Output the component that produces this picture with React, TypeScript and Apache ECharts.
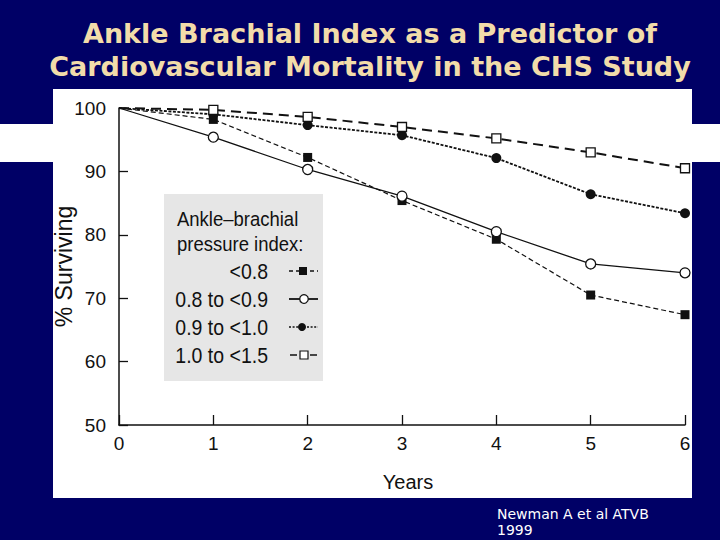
import React, { useEffect, useRef } from "react";
import * as echarts from "echarts";

// Follow-up years and cumulative survival (%) per ankle–brachial index group
const years = [0, 1, 2, 3, 4, 5, 6];
const survivalBelow08 = [100, 98.2, 92.2, 85.4, 79.3, 70.5, 67.4];
const survival08to09 = [100, 95.4, 90.3, 86.1, 80.5, 75.4, 74.0];
const survival09to10 = [100, 99.0, 97.3, 95.7, 92.1, 86.4, 83.4];
const survival10to15 = [100, 99.7, 98.6, 97.0, 95.2, 93.0, 90.5];

const groupLabels = ["<0.8", "0.8 to <0.9", "0.9 to <1.0", "1.0 to <1.5"];
const legendHeading = ["Ankle\u2013brachial", "pressure index:"];
const titleLines = [
  "Ankle Brachial Index as a Predictor of",
  "Cardiovascular Mortality in the CHS Study",
];
const citationLines = ["Newman A et al ATVB", "1999"];

const NAVY = "#000066";
const INK = "#111111";
const SANS = '"Liberation Sans", Arial, Helvetica, sans-serif';

function toPoints(values: number[]) {
  return years.map((yr, i) =>
    yr === 0 ? { value: [yr, values[i]], symbol: "none" } : { value: [yr, values[i]] }
  );
}

export default function App() {
  const ref = useRef<HTMLDivElement>(null);

  useEffect(() => {
    if (!ref.current) return;
    const chart = echarts.init(ref.current, null, { renderer: "svg" });

    const legendRowsY = [271, 299, 327, 355];
    const legendText: any[] = groupLabels.map((label, i) => ({
      type: "text",
      x: 268,
      y: legendRowsY[i],
      scaleY: 1.1,
      z: 20,
      style: {
        text: label,
        fill: INK,
        font: `19.5px ${SANS}`,
        align: "right",
        verticalAlign: "middle",
      },
    }));

    const legendKeys: any[] = [
      // <0.8 : dashed line with filled square
      { type: "line", z: 20, shape: { x1: 289, y1: 271, x2: 318, y2: 271 }, style: { stroke: INK, lineWidth: 1.6, lineDash: [4, 3] } },
      { type: "rect", z: 21, shape: { x: 299, y: 267, width: 8, height: 8 }, style: { fill: INK } },
      // 0.8 to <0.9 : solid line with open circle
      { type: "line", z: 20, shape: { x1: 289, y1: 299, x2: 318, y2: 299 }, style: { stroke: INK, lineWidth: 1.8 } },
      { type: "circle", z: 21, shape: { cx: 304, cy: 299, r: 4.3 }, style: { fill: "#ffffff", stroke: INK, lineWidth: 1.3 } },
      // 0.9 to <1.0 : dotted line with filled circle
      { type: "line", z: 20, shape: { x1: 289, y1: 327, x2: 318, y2: 327 }, style: { stroke: INK, lineWidth: 1.4, lineDash: [2, 1.6] } },
      { type: "circle", z: 21, shape: { cx: 302, cy: 327, r: 4 }, style: { fill: INK } },
      // 1.0 to <1.5 : long dash with open square
      { type: "line", z: 20, shape: { x1: 290, y1: 355, x2: 318, y2: 355 }, style: { stroke: INK, lineWidth: 1.6, lineDash: [7, 13] } },
      { type: "rect", z: 21, shape: { x: 300, y: 351, width: 8, height: 8 }, style: { fill: "#ffffff", stroke: INK, lineWidth: 1.2 } },
    ];

    const option: any = {
      animation: false,
      backgroundColor: NAVY,
      grid: { left: 119, top: 108, right: 35, bottom: 115, containLabel: false },
      xAxis: {
        type: "value",
        min: 0,
        max: 6,
        interval: 1,
        z: 5,
        name: "Years",
        nameLocation: "middle",
        nameGap: 47,
        nameTextStyle: { color: INK, fontFamily: SANS, fontSize: 20, padding: [0, 0, 0, 12] },
        splitLine: { show: false },
        axisLine: { lineStyle: { color: INK, width: 1.5 } },
        axisTick: { inside: true, length: 10, lineStyle: { color: INK, width: 1.3 } },
        axisLabel: { color: INK, fontFamily: SANS, fontSize: 19, margin: 9 },
      },
      yAxis: {
        type: "value",
        min: 50,
        max: 100,
        interval: 10,
        z: 5,
        name: "% Surviving",
        nameLocation: "middle",
        nameGap: 44,
        nameMoveOverlap: false,
        nameTextStyle: { color: INK, fontFamily: SANS, fontSize: 23 },
        splitLine: { show: false },
        axisLine: { lineStyle: { color: INK, width: 1.5 } },
        axisTick: { inside: true, length: 9, lineStyle: { color: INK, width: 1.3 } },
        axisLabel: { color: INK, fontFamily: SANS, fontSize: 19, margin: 13 },
      },
      series: [
        {
          name: groupLabels[0],
          type: "line",
          z: 6,
          data: toPoints(survivalBelow08),
          symbol: "rect",
          symbolSize: 9,
          itemStyle: { color: INK },
          lineStyle: { color: INK, width: 1.2, type: [5, 3] },
        },
        {
          name: groupLabels[1],
          type: "line",
          z: 6,
          data: toPoints(survival08to09),
          symbol: "circle",
          symbolSize: 10,
          itemStyle: { color: "#ffffff", borderColor: INK, borderWidth: 1.3 },
          lineStyle: { color: INK, width: 1.3 },
        },
        {
          name: groupLabels[2],
          type: "line",
          z: 6,
          data: toPoints(survival09to10),
          symbol: "circle",
          symbolSize: 10,
          itemStyle: { color: INK },
          lineStyle: { color: INK, width: 1.8, type: [3, 1.5] },
        },
        {
          name: groupLabels[3],
          type: "line",
          z: 6,
          data: toPoints(survival10to15),
          symbol: "rect",
          symbolSize: 9,
          itemStyle: { color: "#ffffff", borderColor: INK, borderWidth: 1.3 },
          lineStyle: { color: INK, width: 2, type: [10, 6] },
        },
      ],
      graphic: [
        // white figure panel and horizontal band behind the plot
        { type: "rect", z: -10, shape: { x: 53, y: 89, width: 639, height: 409 }, style: { fill: "#ffffff" } },
        { type: "rect", z: -10, shape: { x: 0, y: 124, width: 720, height: 38 }, style: { fill: "#ffffff" } },
        // navy margin on the right edge of the panel
        { type: "rect", z: 50, shape: { x: 692, y: 162, width: 28, height: 336 }, style: { fill: NAVY } },
        // title
        ...titleLines.map((t, i) => ({
          type: "text",
          x: 370,
          y: 33 + i * 33,
          z: 30,
          style: {
            text: t,
            fill: "#F2DCAA",
            font: `bold 27px "DejaVu Sans", Verdana, sans-serif`,
            align: "center",
            verticalAlign: "middle",
          },
        })),
        // citation
        ...citationLines.map((t, i) => ({
          type: "text",
          x: 497,
          y: 514 + i * 16,
          z: 30,
          style: {
            text: t,
            fill: "#ffffff",
            font: `14px "DejaVu Sans", Verdana, sans-serif`,
            align: "left",
            verticalAlign: "middle",
          },
        })),
        // legend panel
        { type: "rect", z: 19, shape: { x: 164, y: 194, width: 159, height: 187 }, style: { fill: "#e6e6e6" } },
        ...legendHeading.map((t, i) => ({
          type: "text",
          x: 177,
          y: 219 + i * 25,
          scaleY: 1.12,
          z: 20,
          style: {
            text: t,
            fill: INK,
            font: `18.5px ${SANS}`,
            align: "left",
            verticalAlign: "middle",
          },
        })),
        ...legendText,
        ...legendKeys,
      ],
    };

    chart.setOption(option);
    return () => chart.dispose();
  }, []);

  return (
    <div
      ref={ref}
      style={{ position: "absolute", left: 0, top: 0, width: 720, height: 540 }}
    />
  );
}
